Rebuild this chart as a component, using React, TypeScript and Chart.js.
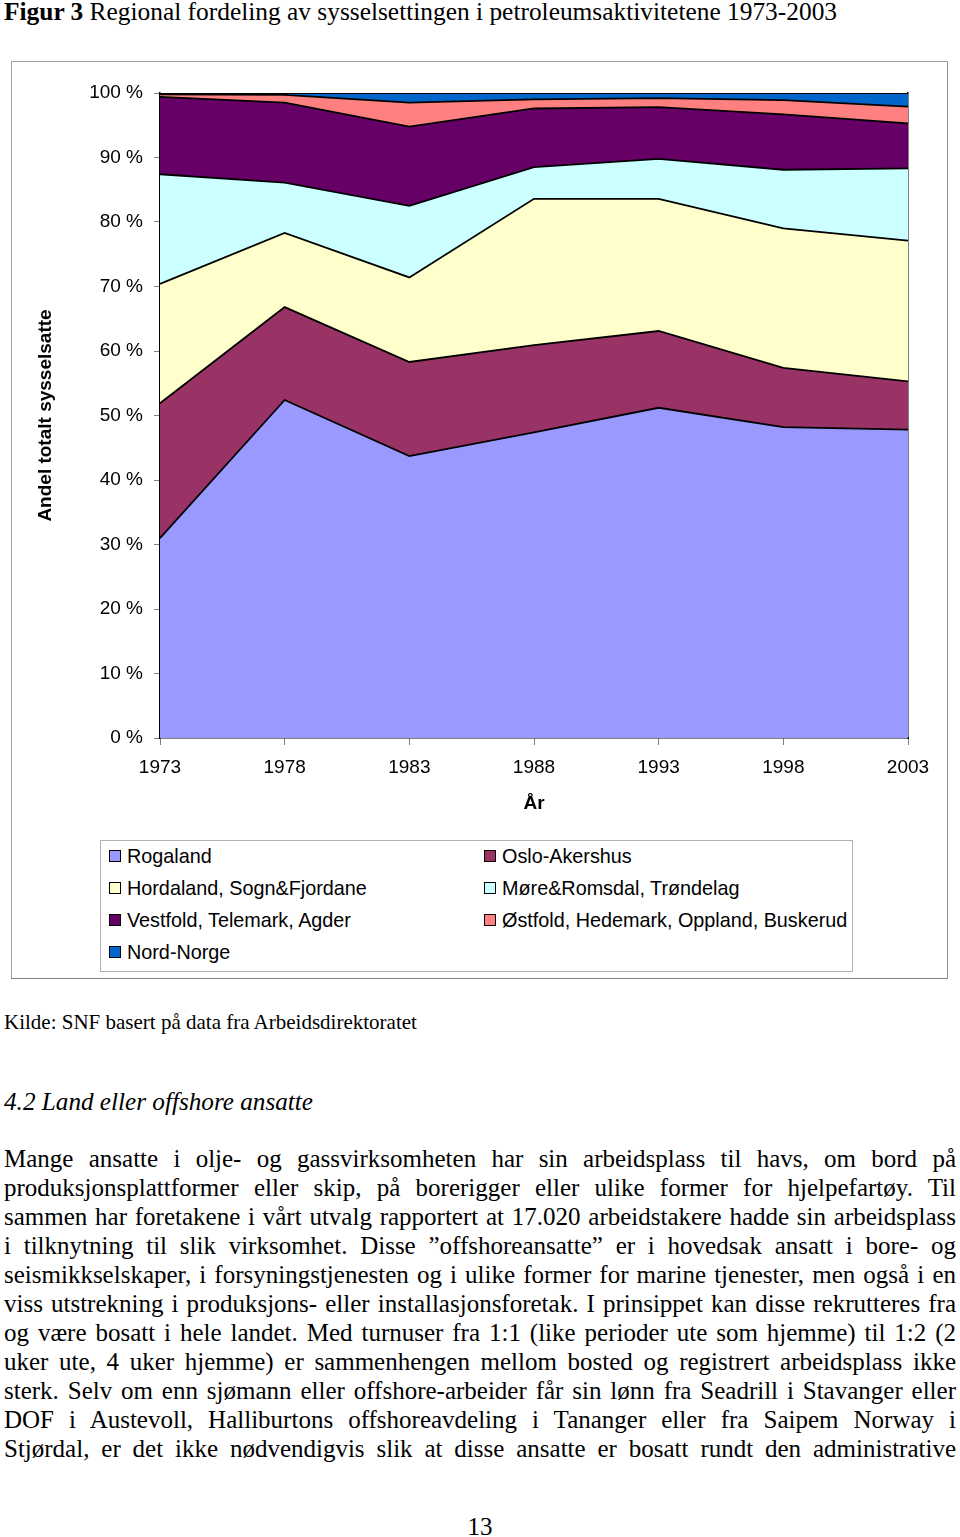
import React, { useEffect, useRef } from "react";
import { Chart, registerables } from "chart.js";

Chart.register(...registerables);

// ---- Data (share of total employment, %) ----
const years = ["1973", "1978", "1983", "1988", "1993", "1998", "2003"];
const rogaland = [31.0, 52.4, 43.7, 47.4, 51.2, 48.2, 47.8];
const osloAkershus = [20.9, 14.4, 14.6, 13.5, 11.9, 9.2, 7.5];
const hordalandSognFjordane = [18.5, 11.5, 13.1, 22.7, 20.5, 21.6, 21.8];
const moreRomsdalTrondelag = [17.0, 7.8, 11.1, 4.9, 6.2, 9.1, 11.2];
const vestfoldTelemarkAgder = [12.0, 12.4, 12.3, 9.1, 8.0, 8.6, 7.0];
const ostfoldHedmarkOpplandBuskerud = [0.4, 1.2, 3.7, 1.4, 1.4, 2.2, 2.6];
const nordNorge = [0.2, 0.3, 1.5, 1.0, 0.8, 1.1, 2.1];

const seriesNames = [
  "Rogaland",
  "Oslo-Akershus",
  "Hordaland, Sogn&Fjordane",
  "Møre&Romsdal, Trøndelag",
  "Vestfold, Telemark, Agder",
  "Østfold, Hedemark, Oppland, Buskerud",
  "Nord-Norge",
];
const seriesValues = [
  rogaland,
  osloAkershus,
  hordalandSognFjordane,
  moreRomsdalTrondelag,
  vestfoldTelemarkAgder,
  ostfoldHedmarkOpplandBuskerud,
  nordNorge,
];
const seriesColors = ["#9999FF", "#993366", "#FFFFCC", "#CCFFFF", "#660066", "#FF8080", "#0066CC"];

const yAxisTitle = "Andel totalt sysselsatte";
const xAxisTitle = "År";

const paragraphLines = [
  "Mange ansatte i olje- og gassvirksomheten har sin arbeidsplass til havs, om bord på",
  "produksjonsplattformer eller skip, på borerigger eller ulike former for hjelpefartøy. Til",
  "sammen har foretakene i vårt utvalg rapportert at 17.020 arbeidstakere hadde sin arbeidsplass",
  "i tilknytning til slik virksomhet. Disse ”offshoreansatte” er i hovedsak ansatt i bore- og",
  "seismikkselskaper, i forsyningstjenesten og i ulike former for marine tjenester, men også i en",
  "viss utstrekning i produksjons- eller installasjonsforetak. I prinsippet kan disse rekrutteres fra",
  "og være bosatt i hele landet. Med turnuser fra 1:1 (like perioder ute som hjemme) til 1:2 (2",
  "uker ute, 4 uker hjemme) er sammenhengen mellom bosted og registrert arbeidsplass ikke",
  "sterk. Selv om enn sjømann eller offshore-arbeider får sin lønn fra Seadrill i Stavanger eller",
  "DOF i Austevoll, Halliburtons offshoreavdeling i Tananger eller fra Saipem Norway i",
  "Stjørdal, er det ikke nødvendigvis slik at disse ansatte er bosatt rundt den administrative",
];

const SERIF = '"Liberation Serif", "Times New Roman", serif';
const SANS = '"Liberation Sans", Arial, sans-serif';

function AreaChart() {
  const ref = useRef<HTMLCanvasElement | null>(null);
  useEffect(() => {
    if (!ref.current) return;
    const chart = new Chart(ref.current, {
      type: "line",
      data: {
        labels: years,
        datasets: seriesValues.map((vals, i) => ({
          label: seriesNames[i],
          data: vals,
          backgroundColor: seriesColors[i],
          borderColor: "#000000",
          borderWidth: 1.8,
          pointRadius: 0,
          tension: 0,
          fill: i === 0 ? "origin" : "-1",
        })),
      },
      options: {
        responsive: false,
        animation: false,
        layout: { padding: { top: 93, right: 52, left: 0, bottom: 0 } },
        plugins: { legend: { display: false }, tooltip: { enabled: false } },
        scales: {
          x: {
            offset: false,
            border: { color: "#000000", width: 1.5 },
            grid: { drawOnChartArea: false, color: "#808080", tickLength: 7, offset: false },
            ticks: {
              color: "#000000",
              font: { family: SANS, size: 19 },
              padding: 11,
              autoSkip: false,
              maxRotation: 0,
            },
            title: {
              display: true,
              text: xAxisTitle,
              color: "#000000",
              font: { family: SANS, size: 19, weight: "bold" },
              padding: { top: 0, bottom: 15 },
            },
            afterFit: (scale: any) => {
              scale.height = 92;
            },
          },
          y: {
            stacked: true,
            min: 0,
            max: 100,
            border: { color: "#000000", width: 1.5 },
            grid: { drawOnChartArea: false, color: "#808080", tickLength: 6 },
            ticks: {
              stepSize: 10,
              color: "#000000",
              font: { family: SANS, size: 19 },
              padding: 11,
              callback: (v: any) => `${v} %`,
            },
            title: {
              display: true,
              text: yAxisTitle,
              color: "#000000",
              font: { family: SANS, size: 19, weight: "bold" },
              padding: { top: 34, bottom: 0 },
            },
            afterFit: (scale: any) => {
              scale.width = 160;
            },
          },
          y2: {
            position: "right",
            min: 0,
            max: 100,
            border: { color: "#000000", width: 1.5 },
            grid: { display: false, drawTicks: false },
            ticks: { display: false },
            afterFit: (scale: any) => {
              scale.width = 0;
            },
          },
        },
      },
    } as any);
    return () => chart.destroy();
  }, []);
  return (
    <canvas
      ref={ref}
      width={960}
      height={830}
      style={{ position: "absolute", left: 0, top: 0, width: 960, height: 830 }}
    />
  );
}

function Legend() {
  return (
    <div
      style={{
        position: "absolute",
        left: 100,
        top: 840,
        width: 753,
        height: 132,
        border: "1px solid #b0b0b0",
        boxSizing: "border-box",
        background: "#fff",
      }}
    >
      {seriesNames.map((name, i) => {
        const col = i % 2;
        const row = Math.floor(i / 2);
        return (
          <div
            key={name}
            style={{
              position: "absolute",
              left: col === 0 ? 8 : 383,
              top: 4 + row * 32,
              height: 22,
              display: "flex",
              alignItems: "center",
              fontFamily: SANS,
              fontSize: 19.8,
              color: "#000",
              whiteSpace: "nowrap",
            }}
          >
            <span
              style={{
                display: "inline-block",
                width: 10,
                height: 10,
                border: "1px solid #000",
                background: seriesColors[i],
                marginRight: 6,
              }}
            />
            {name}
          </div>
        );
      })}
    </div>
  );
}

export default function App() {
  return (
    <div
      style={{
        position: "absolute",
        left: 0,
        top: 0,
        width: 960,
        height: 1537,
        background: "#fff",
        overflow: "hidden",
        fontFamily: SERIF,
        color: "#000",
      }}
    >
      <div
        style={{
          position: "absolute",
          left: 4,
          top: -3,
          fontSize: 25.4,
          lineHeight: "29px",
          whiteSpace: "nowrap",
        }}
      >
        <b>Figur 3</b> Regional fordeling av sysselsettingen i petroleumsaktivitetene 1973-2003
      </div>

      <div
        style={{
          position: "absolute",
          left: 11,
          top: 61,
          width: 937,
          height: 918,
          border: "1px solid #a0a0a0",
          borderBottomColor: "#808080",
          borderRightColor: "#909090",
          boxSizing: "border-box",
        }}
      />
      <AreaChart />
      <Legend />

      <div
        style={{
          position: "absolute",
          left: 4,
          top: 1010,
          fontSize: 21,
          lineHeight: "24px",
          whiteSpace: "nowrap",
        }}
      >
        Kilde: SNF basert på data fra Arbeidsdirektoratet
      </div>

      <div
        style={{
          position: "absolute",
          left: 4,
          top: 1087,
          fontSize: 25.2,
          lineHeight: "29px",
          fontStyle: "italic",
          whiteSpace: "nowrap",
        }}
      >
        4.2 Land eller offshore ansatte
      </div>

      {paragraphLines.map((line, i) => (
        <div
          key={i}
          style={{
            position: "absolute",
            left: 4,
            top: 1144 + i * 29,
            width: 952,
            fontSize: 25,
            lineHeight: "29px",
            textAlign: "justify",
            textAlignLast: "justify" as any,
            whiteSpace: "nowrap",
          }}
        >
          {line}
        </div>
      ))}

      <div
        style={{
          position: "absolute",
          left: 0,
          width: 960,
          top: 1512,
          fontSize: 25,
          lineHeight: "29px",
          textAlign: "center",
        }}
      >
        13
      </div>
    </div>
  );
}
